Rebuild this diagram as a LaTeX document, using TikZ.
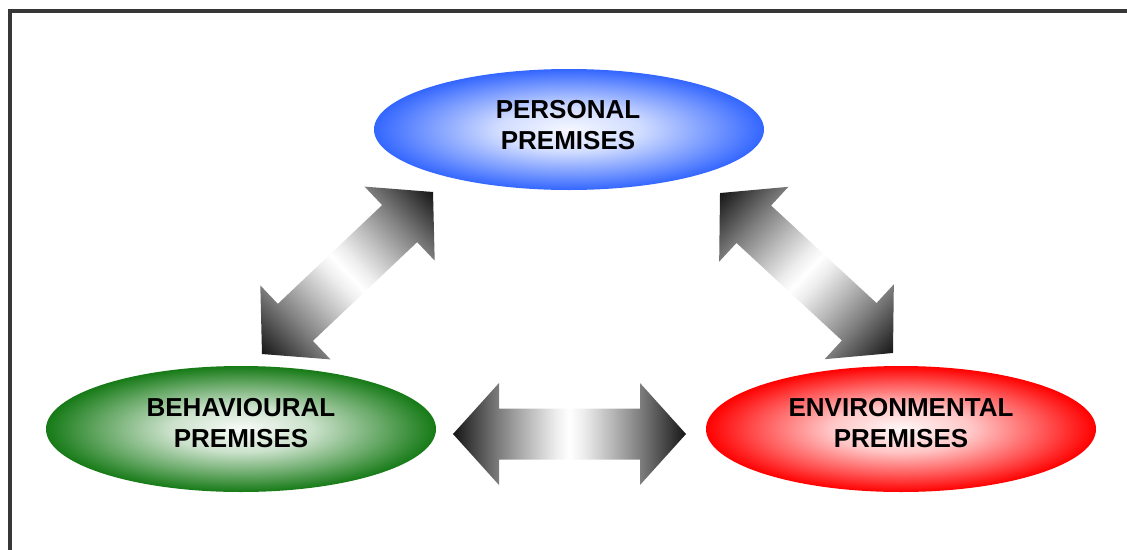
\documentclass[tikz,border=0pt]{standalone}
\usepackage{fontspec}
\setmainfont{Liberation Sans}
\usetikzlibrary{shapes.geometric}
\definecolor{pblue}{RGB}{51,102,255}
\definecolor{pgreen}{RGB}{22,122,22}
\definecolor{pred}{RGB}{255,0,0}
\definecolor{framegray}{RGB}{55,55,55}
\definecolor{arrowdark}{RGB}{22,22,22}
\pgfdeclareradialshading{ballblue}{\pgfpoint{0bp}{0bp}}{color(0bp)=(pblue!5); color(9bp)=(pblue!22); color(18bp)=(pblue!65); color(25bp)=(pblue); color(50bp)=(pblue)}
\pgfdeclareradialshading{ballgreen}{\pgfpoint{0bp}{0bp}}{color(0bp)=(pgreen!3); color(9bp)=(pgreen!22); color(18bp)=(pgreen!65); color(25bp)=(pgreen); color(50bp)=(pgreen)}
\pgfdeclareradialshading{ballred}{\pgfpoint{0bp}{0bp}}{color(0bp)=(pred!3); color(9bp)=(pred!22); color(18bp)=(pred!65); color(25bp)=(pred); color(50bp)=(pred)}
\pgfdeclarehorizontalshading{arrowshade}{100bp}{color(0bp)=(arrowdark); color(25bp)=(arrowdark); color(35bp)=(black!50); color(41.5bp)=(black!26); color(47bp)=(black!7); color(50bp)=(white); color(53bp)=(black!7); color(58.5bp)=(black!26); color(65bp)=(black!50); color(75bp)=(arrowdark); color(100bp)=(arrowdark)}
\tikzset{
  premise/.style={ellipse, minimum width=390pt, inner sep=0pt, outer sep=0pt},
  premtext/.style={align=center, inner sep=0pt, font=\fontsize{26}{31.5}\selectfont\bfseries},
  blockarrow/.style={shading=arrowshade}
}
\newcommand{\dblarrow}[1]{% #1 = half length
  \shade[blockarrow] (-#1,0) -- (-#1+46,51) -- (-#1+46,25.5) -- (#1-46,25.5) -- (#1-46,51) -- (#1,0)
    -- (#1-46,-51) -- (#1-46,-25.5) -- (-#1+46,-25.5) -- (-#1+46,-51) -- cycle;}
\begin{document}
\begin{tikzpicture}[x=1pt, y=-1pt]
\useasboundingbox (0,0) rectangle (1127,549);
\begin{scope}
\clip (0,0) rectangle (1127,549);
\draw[framegray, line width=4pt] (9.5,10.8) rectangle (1160,600);
\end{scope}

% ellipses
\node[premise, minimum height=121pt, shading=ballblue] (per) at (569,129.5) {};
\node[premise, minimum height=126pt, shading=ballgreen] (beh) at (241,429) {};
\node[premise, minimum height=126pt, shading=ballred] (env) at (901,429) {};

% texts
\node[premtext] (pert) at (568,125) {PERSONAL\\PREMISES};
\node[premtext] (beht) at (241,423.2) {BEHAVIOURAL\\PREMISES};
\node[premtext] (envt) at (901,423.2) {ENVIRONMENTAL\\PREMISES};

% block arrows
\begin{scope}[transform canvas={shift={(569.5,434)}}]
\dblarrow{116.5}
\end{scope}
\begin{scope}[transform canvas={shift={(347.5,273)}, rotate=43.45}]
\dblarrow{117.8}
\end{scope}
\begin{scope}[transform canvas={shift={(806.5,273)}, rotate=-42.76}]
\dblarrow{117.8}
\end{scope}
\end{tikzpicture}
\end{document}
